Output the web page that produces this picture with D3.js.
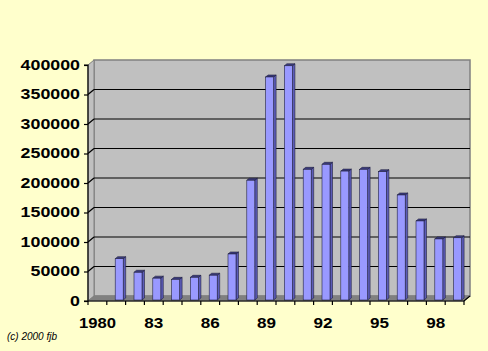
<!DOCTYPE html>
<html>
<head>
<meta charset="utf-8">
<script src="https://cdn.jsdelivr.net/npm/d3@7"></script>
<style>
  body { margin: 0; background: #ffffcc; }
  svg { display: block; }
  .axis text { font-family: "Liberation Sans", Arial, sans-serif; font-weight: bold; font-size: 14px; fill: #000; }
</style>
</head>
<body>
<div id="chart"></div>
<script>
const years = d3.range(1980, 2000).map(String);
const values = [null, 70000, 47000, 37000, 35000, 38500, 42000, 78000, 203000, 378000,
  397000, 221500, 230000, 218500, 221500, 217500, 178000, 134000, 103500, 105500];
const yTicks = [0, 50000, 100000, 150000, 200000, 250000, 300000, 350000, 400000];
const labelYears = ["1980", "1983", "1986", "1989", "1992", "1995", "1998"];

const width = 488, height = 351;
const margin = { top: 65, right: 24, bottom: 50, left: 88 };
const depth = { dx: 6, dy: -5 };
const barDepth = { dx: 2.5, dy: -2 };

const svg = d3.select("#chart").append("svg")
  .attr("width", width).attr("height", height);

svg.append("rect").attr("width", width).attr("height", height).attr("fill", "#ffffcc");

const x = d3.scaleBand().domain(years)
  .range([margin.left, width - margin.right]);
const y = d3.scaleLinear().domain([0, 400000])
  .range([height - margin.bottom, margin.top]);

const x0 = x.range()[0], x1 = x.range()[1];
const yb = y(0), yt = y(400000);

// walls
svg.append("rect")
  .attr("x", x0 + depth.dx).attr("y", yt + depth.dy)
  .attr("width", x1 - x0).attr("height", yb - yt)
  .attr("fill", "#c0c0c0").attr("stroke", "#808080").attr("stroke-width", 1.5);

svg.append("polygon")
  .attr("points", [[x0, yt], [x0 + depth.dx, yt + depth.dy], [x0 + depth.dx, yb + depth.dy], [x0, yb]].join(" "))
  .attr("fill", "#c0c0c0").attr("stroke", "#808080");

svg.append("polygon")
  .attr("points", [[x0, yb], [x0 + depth.dx, yb + depth.dy], [x1 + depth.dx, yb + depth.dy], [x1, yb]].join(" "))
  .attr("fill", "#808080").attr("stroke", "#808080");

// gridlines
const grid = svg.append("g").attr("stroke", "#000").attr("stroke-width", 1.2);
yTicks.filter((d) => d > 0 && d < 400000).forEach((d) => {
  grid.append("line")
    .attr("x1", x0 + depth.dx).attr("x2", x1 + depth.dx)
    .attr("y1", y(d) + depth.dy).attr("y2", y(d) + depth.dy);
  grid.append("line")
    .attr("x1", x0).attr("x2", x0 + depth.dx)
    .attr("y1", y(d)).attr("y2", y(d) + depth.dy);
});

// bars
const bw = 8;
const bars = svg.append("g");
years.forEach((yr, i) => {
  const v = values[i];
  if (v === null) return;
  const cx = x(yr) + x.bandwidth() / 2 + 3;
  const l = cx - bw / 2, r = cx + bw / 2;
  const base = yb - 1, top = y(v) - 1;
  bars.append("polygon")
    .attr("points", [[r, top], [r + barDepth.dx, top + barDepth.dy], [r + barDepth.dx, base + barDepth.dy], [r, base]].join(" "))
    .attr("fill", "#5c5cb8").attr("stroke", "#202040").attr("stroke-width", 0.6);
  bars.append("polygon")
    .attr("points", [[l, top], [l + barDepth.dx, top + barDepth.dy], [r + barDepth.dx, top + barDepth.dy], [r, top]].join(" "))
    .attr("fill", "#3c3c80").attr("stroke", "#202040").attr("stroke-width", 0.6);
  bars.append("rect")
    .attr("x", l).attr("y", top).attr("width", bw).attr("height", base - top)
    .attr("fill", "#9999ff").attr("stroke", "#202040").attr("stroke-width", 0.6);
});

// y axis
svg.append("g").attr("class", "axis")
  .attr("transform", `translate(${x0},0)`)
  .call(d3.axisLeft(y).tickValues(yTicks).tickFormat(d3.format("d")).tickSize(4).tickPadding(4))
  .call((g) => g.selectAll("line, path").attr("stroke", "#000").attr("stroke-width", 1.2))
  .call((g) => g.select(".domain").attr("d", `M-4,${yt}H0V${yb}H-4`))
  .call((g) => g.selectAll("text")
    .attr("textLength", (d) => String(d).length * 9.9)
    .attr("lengthAdjust", "spacingAndGlyphs"));

// x axis
svg.append("g").attr("class", "axis")
  .attr("transform", `translate(0,${yb})`)
  .call(d3.axisBottom(x).tickSize(0).tickPadding(17)
    .tickFormat((d) => {
      if (!labelYears.includes(d)) return "";
      return d === "1980" ? d : d.slice(2);
    }))
  .call((g) => g.select(".domain").attr("stroke", "#000").attr("stroke-width", 1.2)
    .attr("d", `M${x0},0H${x1}L${x1 + depth.dx},${depth.dy}`))
  .call((g) => g.selectAll("text")
    .filter((d) => labelYears.includes(d))
    .attr("textLength", (d) => (d === "1980" ? 37 : 19))
    .attr("lengthAdjust", "spacingAndGlyphs"));

const xTicks = svg.append("g").attr("stroke", "#000").attr("stroke-width", 1.2);
years.concat([null]).forEach((yr, i) => {
  const px = yr === null ? x1 : x(yr);
  xTicks.append("line")
    .attr("x1", px).attr("x2", px)
    .attr("y1", yb).attr("y2", yb + 4);
});

// credit
svg.append("text")
  .attr("x", 7).attr("y", 340)
  .attr("font-family", "Liberation Sans, Arial, sans-serif")
  .attr("font-style", "italic").attr("font-size", 10)
  .attr("textLength", 50).attr("lengthAdjust", "spacingAndGlyphs")
  .text("(c) 2000 fjb");
</script>
</body>
</html>
